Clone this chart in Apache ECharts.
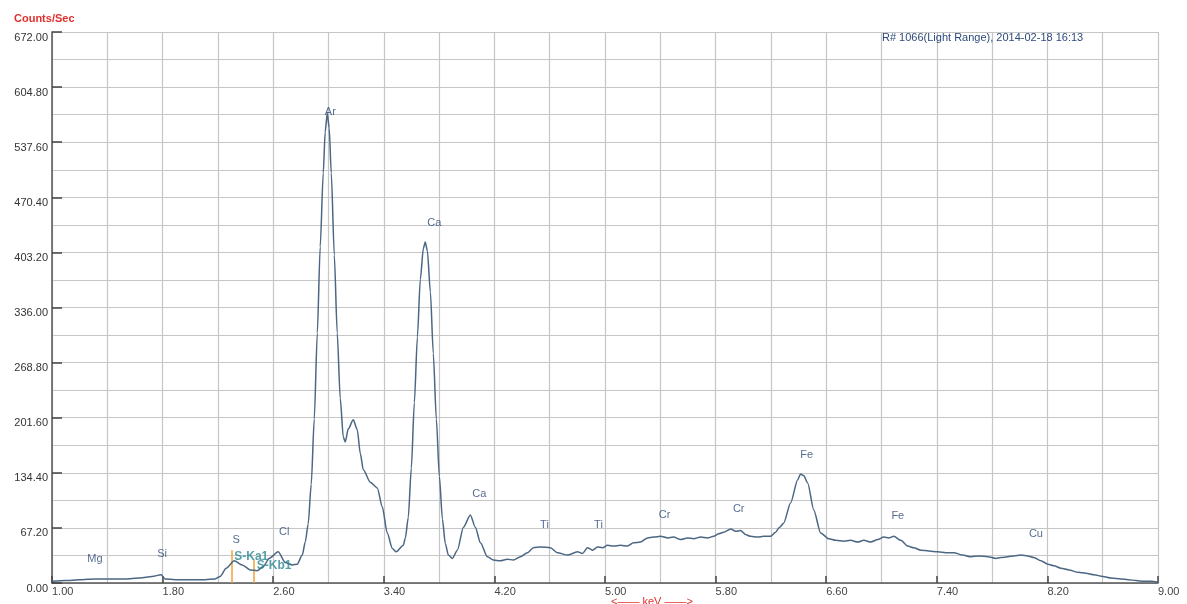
<!DOCTYPE html>
<html><head><meta charset="utf-8">
<script src="https://cdn.jsdelivr.net/npm/echarts@6/dist/echarts.min.js"></script>
<style>html,body{margin:0;padding:0;background:#fff}#c{width:1187px;height:604px}</style>
</head><body><div id="c"></div>
<script>
const energyKeV = [1.00,1.094,1.203,1.311,1.42,1.528,1.637,1.724,1.789,1.818,1.89,1.999,2.108,2.18,2.216,2.26,2.318,2.376,2.434,2.484,2.528,2.571,2.636,2.687,2.738,2.774,2.81,2.832,2.853,2.875,2.897,2.919,2.940,2.962,2.976,2.991,3.005,3.020,3.042,3.063,3.085,3.107,3.121,3.143,3.179,3.208,3.23,3.252,3.302,3.353,3.389,3.425,3.462,3.49,3.541,3.556,3.577,3.599,3.621,3.643,3.664,3.686,3.70,3.715,3.737,3.758,3.780,3.802,3.824,3.845,3.867,3.896,3.932,3.976,4.026,4.062,4.099,4.149,4.193,4.243,4.294,4.338,4.388,4.439,4.482,4.533,4.605,4.656,4.728,4.801,4.837,4.873,4.91,4.946,4.982,5.018,5.062,5.112,5.163,5.206,5.257,5.308,5.351,5.402,5.452,5.496,5.547,5.597,5.641,5.691,5.742,5.786,5.822,5.858,5.909,5.945,5.981,6.017,6.053,6.104,6.148,6.198,6.234,6.263,6.292,6.343,6.394,6.415,6.437,6.466,6.51,6.56,6.618,6.669,6.727,6.777,6.828,6.872,6.923,6.973,7.016,7.053,7.089,7.14,7.19,7.234,7.284,7.342,7.407,7.465,7.523,7.588,7.646,7.704,7.769,7.827,7.863,7.914,7.957,8.008,8.059,8.102,8.153,8.204,8.247,8.298,8.356,8.421,8.479,8.537,8.602,8.66,8.732,8.783,8.841,8.899,8.95,9.00];
const countsPerSec = [2,3,4,5,5,5,6,8,10,5,4,4,4,5,8,18,27,22,16,15,20,30,38,25,22,23,34,50,72,120,200,305,410,500,550,573,555,500,400,305,225,178,172,188,199,187,158,138,123,116,93,61,42,38,46,55,80,140,220,300,370,408,416,405,355,280,200,130,78,48,34,30,40,68,83,68,49,32,28,27,29,28,32,37,43,44,43,37,34,38,36,43,40,44,43,46,45,46,45,49,50,55,56,57,55,56,53,55,54,56,55,57,60,62,66,63,64,59,57,56,57,57,62,68,73,98,126,133,131,122,89,61,54,52,51,52,50,52,50,53,56,55,57,52,45,43,40,39,38,37,37,34,32,33,32,30,31,32,33,34,33,31,27,23,21,18,16,13,12,10,8,6,5,4,3,2,2,1];
const peakNames = ['Mg','Si','S','Cl','Ar','Ca','Ca','Ti','Ti','Cr','Cr','Fe','Fe','Cu'];
const peakLabelKeV = [1.311,1.796,2.333,2.68,3.013,3.765,4.091,4.562,4.953,5.431,5.967,6.459,7.118,8.117];
const peakLabelCounts = [29,35.4,52.4,62,574,439,108.5,70.7,70.7,83,90.3,156,81.7,59.8];
const lineNames = ['S-Ka1','S-Kb1'];
const lineKeV = [2.303,2.462];
const lineTop = [40,28];
const lineLabelKeV = [2.441,2.607];
const lineLabelCounts = [31.7,20.7];
const yTicks = [0,672,67.2];
const xTicks = [1,9,0.8];

const chart = echarts.init(document.getElementById('c'));
const spectrum = energyKeV.map((e,i)=>[e,countsPerSec[i]]);
const peakData = peakNames.map((n,i)=>({name:n,value:[peakLabelKeV[i],peakLabelCounts[i]]}));
const lineLabelData = lineNames.map((n,i)=>({name:n,value:[lineLabelKeV[i],lineLabelCounts[i]]}));
const markLines = lineKeV.map((e,i)=>[{coord:[e,0]},{coord:[e,lineTop[i]]}]);
const gridColor = '#c6c6c6';
chart.setOption({
  animation:false,
  title:[
    {text:'Counts/Sec',left:9,top:8,textStyle:{color:'#e2302c',fontSize:11,fontWeight:'bold',fontFamily:'Liberation Sans'}},
    {text:'R# 1066(Light Range), 2014-02-18 16:13',left:877,top:27,textStyle:{color:'#2d4a7c',fontSize:11,fontWeight:'normal',fontFamily:'Liberation Sans'}},
    {text:'<—— keV ——>',left:606,top:591,textStyle:{color:'#e2302c',fontSize:11,fontWeight:'normal',fontFamily:'Liberation Sans'}}
  ],
  grid:{left:52,right:29,top:32,bottom:21,containLabel:false},
  xAxis:{type:'value',min:xTicks[0],max:xTicks[1],interval:xTicks[2],
    axisLine:{show:true,onZero:false,lineStyle:{color:'#555',width:1.5}},
    axisTick:{show:true,inside:true,length:7,lineStyle:{color:'#444',width:1.5}},
    axisLabel:{align:'left',margin:3,color:'#444',fontSize:11,fontFamily:'Liberation Sans',formatter:v=>v.toFixed(2),showMinLabel:true,showMaxLabel:true},
    splitLine:{show:true,lineStyle:{color:gridColor,width:1.2}},
    minorTick:{show:false,splitNumber:2},
    minorSplitLine:{show:true,lineStyle:{color:gridColor,width:1.2}}
  },
  yAxis:{type:'value',min:yTicks[0],max:yTicks[1],interval:yTicks[2],
    axisLine:{show:true,lineStyle:{color:'#555',width:1.5}},
    axisTick:{show:true,inside:true,length:10,lineStyle:{color:'#444',width:1.5}},
    axisLabel:{margin:4,color:'#333',fontSize:11,fontFamily:'Liberation Sans',verticalAlign:'top',formatter:v=>v.toFixed(2),showMinLabel:true,showMaxLabel:true},
    splitLine:{show:true,lineStyle:{color:gridColor,width:1.2}},
    minorTick:{show:false,splitNumber:2},
    minorSplitLine:{show:true,lineStyle:{color:gridColor,width:1.2}}
  },
  series:[
    {type:'line',data:spectrum,showSymbol:false,smooth:0.25,smoothMonotone:'x',
      lineStyle:{color:'#4b6783',width:1.5},z:5,
      markLine:{silent:true,symbol:['none','none'],label:{show:false},
        lineStyle:{color:'#f0a23a',width:1.5,type:'solid'},data:markLines}},
    {type:'scatter',data:peakData,symbolSize:0,z:6,
      label:{show:true,position:'inside',formatter:p=>p.name,color:'#2a4774',fontSize:11,fontFamily:'Liberation Sans'}},
    {type:'scatter',data:lineLabelData,symbolSize:0,z:7,
      label:{show:true,position:'inside',formatter:p=>p.name,color:'#2a8790',fontSize:12,fontWeight:'bold',fontFamily:'Liberation Sans'}}
  ]
});
</script></body></html>
